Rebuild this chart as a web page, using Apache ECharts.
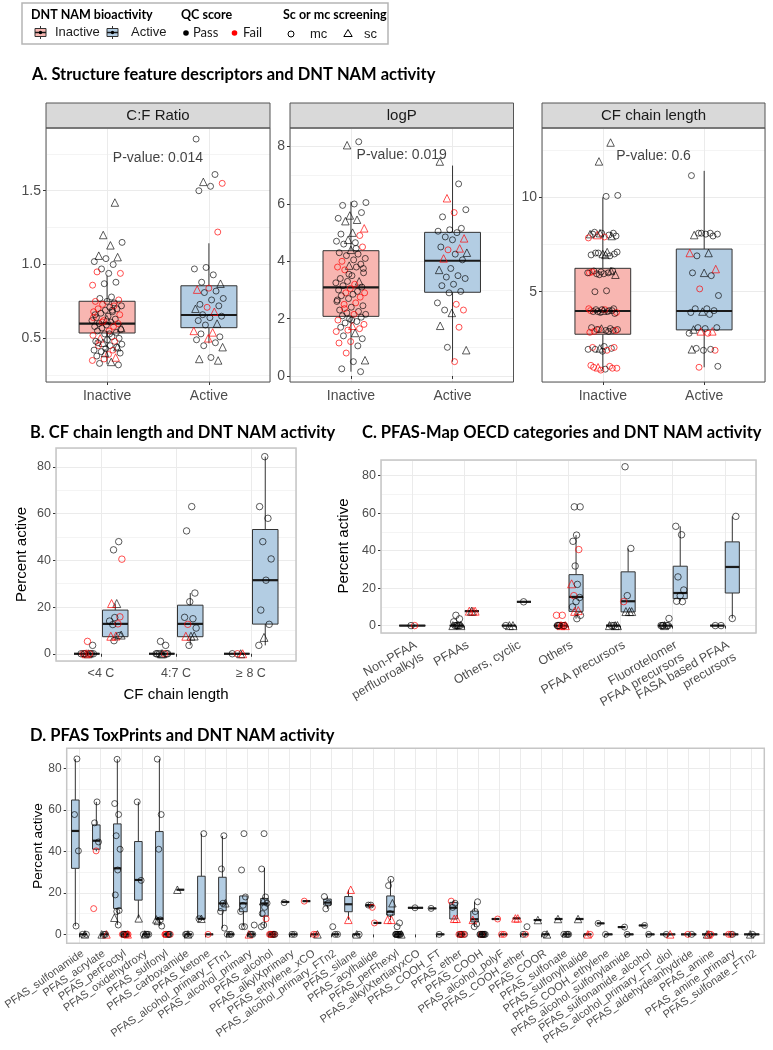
<!DOCTYPE html>
<html><head><meta charset="utf-8">
<script src="https://cdn.jsdelivr.net/npm/echarts@6/dist/echarts.min.js"></script>
<style>html,body{margin:0;padding:0;background:#fff}#c{width:773px;height:1050px}</style>
</head><body><div id="c"></div>
<script>
// ---------------- DATA ----------------
const aGroups = ['Inactive', 'Active'];
const aFacets = ['C:F Ratio', 'logP', 'CF chain length'];
const pValues = ['0.014', '0.019', '0.6'];
// point code: 0 = Pass/mc, 1 = Fail/mc, 2 = Pass/sc, 3 = Fail/sc
const cfRatioBox = [[0.324,0.536,0.600,0.751,0.922],[0.466,0.572,0.658,0.856,1.144]];
const cfRatioInactive = [[1.42,2],[1.20,2],[1.15,0],[1.13,2],[1.06,2],[1.05,2],[1.04,0],[1.02,0],[1.0,0],[0.97,0],[0.94,1],[0.94,0],[0.95,1],[0.88,0],[0.87,0],[0.86,1],[0.78,0],[0.77,0],[0.76,1],[0.75,0],[0.75,1],[0.74,0],[0.73,1],[0.72,0],[0.71,0],[0.70,1],[0.70,0],[0.69,0],[0.68,1],[0.68,0],[0.67,0],[0.66,1],[0.65,0],[0.64,0],[0.63,0],[0.62,1],[0.62,0],[0.61,0],[0.60,0],[0.60,1],[0.59,0],[0.58,0],[0.58,1],[0.57,0],[0.56,0],[0.55,1],[0.55,0],[0.54,0],[0.53,0],[0.52,1],[0.51,0],[0.50,3],[0.50,0],[0.49,0],[0.48,0],[0.48,1],[0.47,2],[0.46,0],[0.45,0],[0.45,1],[0.44,2],[0.43,0],[0.42,0],[0.42,1],[0.41,0],[0.40,0],[0.39,1],[0.38,0],[0.37,3],[0.36,1],[0.35,1],[0.34,2],[0.33,0],[0.32,0],[0.63,2],[0.66,0],[0.72,1],[0.61,1],[0.57,2],[0.53,0],[0.47,0],[0.44,0],[0.40,2],[0.64,1],[0.69,0]];
const cfRatioActive = [[1.85,0],[1.61,0],[1.56,2],[1.55,1],[1.53,0],[1.50,0],[1.22,1],[0.98,0],[0.97,0],[0.93,0],[0.88,0],[0.87,2],[0.84,1],[0.83,3],[0.82,0],[0.81,0],[0.77,0],[0.76,0],[0.73,0],[0.72,0],[0.71,1],[0.70,2],[0.68,3],[0.66,0],[0.65,0],[0.64,0],[0.62,0],[0.60,2],[0.59,0],[0.55,3],[0.54,3],[0.53,0],[0.51,0],[0.50,3],[0.49,0],[0.47,0],[0.45,0],[0.44,2],[0.37,0],[0.36,2],[0.35,2]];
const logPBox = [[0.15,2.08,3.09,4.37,6.08],[0.5,2.92,4.02,5.01,7.34]];
const logPInactive = [[8.17,0],[8.05,2],[6.05,0],[6.0,0],[5.95,0],[5.7,0],[5.6,2],[5.5,0],[5.45,2],[5.4,2],[5.15,3],[5.0,2],[4.95,0],[4.9,1],[4.75,2],[4.7,0],[4.65,0],[4.6,0],[4.5,1],[4.4,2],[4.3,0],[4.25,0],[4.2,0],[4.1,0],[4.05,0],[4.0,1],[3.9,0],[3.85,2],[3.8,1],[3.8,0],[3.7,1],[3.6,0],[3.5,0],[3.4,0],[3.3,2],[3.3,0],[3.25,0],[3.2,1],[3.15,0],[3.1,0],[3.05,1],[3.0,0],[2.95,0],[2.9,1],[2.9,1],[2.85,0],[2.8,0],[2.75,1],[2.7,0],[2.6,0],[2.55,1],[2.5,1],[2.45,0],[2.4,0],[2.3,0],[2.25,0],[2.2,0],[2.15,0],[2.15,1],[2.1,0],[2.05,0],[2.0,0],[1.95,1],[1.9,0],[1.85,0],[1.8,1],[1.75,3],[1.7,0],[1.65,1],[1.6,1],[1.55,1],[1.5,2],[1.4,0],[1.3,0],[1.2,1],[1.15,1],[1.05,0],[0.8,1],[0.55,2],[0.5,0],[0.25,0],[0.15,0],[3.55,0],[2.65,0],[4.45,0],[2.35,1],[3.75,0],[1.95,0]];
const logPActive = [[7.48,2],[6.7,0],[6.2,3],[5.8,0],[5.7,1],[5.55,0],[5.15,0],[5.1,0],[5.05,0],[5.0,0],[4.85,0],[4.8,3],[4.75,0],[4.5,0],[4.45,3],[4.4,1],[4.3,2],[4.25,0],[4.1,3],[4.05,0],[3.75,0],[3.7,2],[3.5,0],[3.45,0],[3.4,0],[3.2,0],[3.15,0],[2.95,0],[2.9,0],[2.55,0],[2.5,1],[2.3,0],[2.3,1],[2.2,2],[1.75,2],[1.7,1],[1.0,0],[0.9,2],[0.5,1]];
const cfChainBox = [[0.9,2.75,3.98,6.24,10.0],[1.0,2.98,3.98,7.26,11.4]];
const cfChainInactive = [[12.9,2],[11.9,2],[10.1,0],[10.05,0],[8.15,0],[8.1,0],[8.1,0],[8.05,2],[8.0,0],[8.0,3],[7.95,0],[7.9,1],[8.05,0],[7.95,2],[8.1,2],[7.85,1],[7.1,2],[7.05,0],[7.0,0],[7.0,2],[6.95,0],[6.9,0],[7.05,0],[7.1,0],[6.95,2],[6.1,0],[6.1,0],[6.05,0],[6.0,1],[6.0,0],[5.95,0],[5.9,2],[5.95,0],[6.05,1],[6.1,2],[5.9,0],[6.0,0],[5.05,0],[5.0,0],[4.1,0],[4.05,0],[4.0,1],[4.0,0],[3.95,0],[3.9,1],[4.05,1],[3.95,0],[4.0,0],[3.9,0],[4.1,1],[3.95,0],[4.05,0],[3.85,0],[4.0,2],[3.1,0],[3.05,0],[3.0,1],[3.0,0],[2.95,0],[2.9,1],[2.95,0],[3.05,2],[2.85,1],[2.9,0],[3.0,0],[2.95,1],[2.1,0],[2.05,1],[2.0,0],[2.0,2],[1.95,0],[1.9,1],[1.95,0],[2.05,1],[1.85,0],[1.1,1],[1.05,1],[1.0,3],[0.95,1],[0.9,0],[1.0,1],[0.95,1],[0.85,1]];
const cfChainActive = [[11.15,0],[8.1,0],[8.1,0],[8.05,0],[8.05,0],[8.0,2],[7.95,0],[8.1,0],[7.05,3],[7.05,2],[6.9,0],[6.2,3],[6.0,2],[6.0,0],[5.85,0],[5.15,1],[4.8,0],[4.1,0],[4.1,0],[4.0,0],[3.95,2],[3.9,0],[3.8,0],[3.1,0],[3.1,0],[3.05,0],[3.0,2],[2.9,3],[2.9,3],[2.8,0],[2.8,1],[2.0,0],[1.9,1],[1.9,0],[1.95,2],[1.95,0],[1.0,1],[1.05,0]];

// Panel B
const chainCats = ['<4 C', '4:7 C', '\u2265 8 C'];
const chainInactiveBox = [[0,0,0,0,0],[0,0,0,0,0],[0,0,0,0,0]];
const chainActiveBox = [[5.6,7.3,12.8,18.7,21.5],[3.6,7.3,12.8,20.8,26],[3.6,12.7,31.5,53.2,84.4]];
const chainInactivePts = [
  [[0,0],[0,1],[0,0],[0,2],[0,1],[0,0],[0,3],[0,0],[0,1],[0,0],[3.6,0],[5.3,1]],
  [[0,0],[0,2],[0,0],[0,1],[0,0],[0,0],[0,2],[0,0],[3.6,0],[5.3,0]],
  [[0,3],[0,1],[0,0],[0,2]]
];
const chainActivePts = [
  [[48,0],[44.5,0],[40.5,1],[21.5,2],[21.5,3],[15.8,1],[15.5,0],[14,0],[12.8,1],[12.5,0],[8,2],[7.6,3],[7.5,3],[7.8,0],[5.6,0]],
  [[63,0],[52.6,0],[26,0],[22.3,0],[15.6,0],[15,0],[12.6,1],[11,0],[7.5,2],[7.5,3],[7.6,2],[3.6,0]],
  [[84.4,0],[63,0],[58,0],[48,0],[40.6,0],[31.5,0],[18.7,0],[12.6,0],[7,2],[3.6,0]]
];

// Panel C
const oecdCats = ['Non-PFAA\nperfluoroalkyls', 'PFAAs', 'Others, cyclic', 'Others', 'PFAA precursors', 'Fluorotelomer\nPFAA precursors', 'FASA based PFAA\nprecursors'];
const oecdInactiveBox = [[0,0,0,0,0],[0,0,0,0,0],[0,0,0,0,0],[0,0,0,0,0],[0,0,0,0,0],[0,0,0,0,0],[0,0,0,0,0]];
const oecdActiveBox = [null,[7.7,7.7,7.7,7.7,7.7],[12.7,12.7,12.7,12.7,12.7],[3.7,7.6,15.3,27.2,48.3],[7.3,7.3,13,28.7,41.2],[13,14.4,17.4,31.7,53],[3.8,17.4,31.3,44.7,58.3]];
const oecdInactivePts = [
  [[0,1],[0,0]],
  [[0,0],[0,0],[0,2],[0,0],[0,0],[0,2],[0,0],[2,0],[3.6,0],[5.5,0]],
  [[0,2],[0,2],[0,0]],
  [[5.5,1],[5.5,1],[0,1],[0,1],[0,3],[0,0],[0,1],[0,0],[0,3],[0,1],[0,0],[0,0]],
  [[0,2],[0,2],[0,0],[0,2],[0,0]],
  [[0,0],[0,0],[0,2],[0,0],[0,0],[0,0],[3.8,0]],
  [[0,0],[0,0]]
];
const oecdActivePts = [
  [],
  [[7.7,3],[7.7,3],[7.7,3],[7.7,2]],
  [[12.7,0]],
  [[63.4,0],[63.4,0],[48.3,0],[45,0],[40.6,1],[31.8,0],[22.3,3],[22,0],[16,1],[15,0],[12.8,0],[10,0],[8,3],[7.6,3],[5.5,0],[3.7,0]],
  [[84.8,0],[41.2,0],[16,0],[12.8,1],[7.5,2],[7.5,2],[7.5,2]],
  [[53,0],[48.5,0],[26,0],[19,0],[16,0],[13,0],[12.8,0]],
  [[58.3,0],[3.8,0]]
];

// Panel D
const toxCats = ['PFAS_sulfonamide','PFAS_acrylate','PFAS_perFoctyl','PFAS_oxidehydroxy','PFAS_sulfonyl','PFAS_carboxamide','PFAS_ketone','PFAS_alcohol_primary_FTn1','PFAS_alcohol_primary','PFAS_alcohol','PFAS_alkylXprimary','PFAS_ethylene_xCO','PFAS_alcohol_primary_FTn2','PFAS_silane','PFAS_acylhalide','PFAS_perFhexyl','PFAS_alkylXtertiaryxCO','PFAS_COOH_FT','PFAS_ether','PFAS_COOH','PFAS_alcohol_polyF','PFAS_COOH_ether','PFAS_COOR','PFAS_sulfonate','PFAS_sulfonylhalide','PFAS_COOH_ethylene','PFAS_alcohol_sulfonylamide','PFAS_sulfonamide_alcohol','PFAS_alcohol_primary_FT_diol','PFAS_aldehydeanhydride','PFAS_amine','PFAS_amine_primary','PFAS_sulfonate_FTn2'];
const toxActiveBox = [[4,31.8,49.8,64.7,84.5],[40,41,45.1,52.7,63.8],[4.5,12.5,31.8,53.2,84.3],[7.7,16.5,26.2,44.7,63.8],[4,7.2,7.6,49.5,84.4],[21.5,21.5,21.5,21.5,21.5],[7.5,7.5,7.5,28,48.5],[2.9,11.4,14.9,27.5,47.4],[3.7,10.9,14.9,18.5,18.5],[3.7,8.8,14.9,17.3,32],[15.6,15.6,15.6,15.6,15.6],[16,16,16,16,16],[12.3,14.1,15.3,17,18.2],[7,10.9,14.5,18.2,21.5],[13,13.6,14.1,14.1,14.1],[6.9,9.3,10.9,18.5,26.5],[12.8,12.8,12.8,12.8,12.8],[12.5,12.5,12.5,12.5,12.5],[7.4,7.4,12.8,15.4,16.2],[3.7,6,7.3,11.2,15.7],[7.4,7.4,7.4,7.4,7.4],[7.7,7.7,7.7,7.7,7.7],[6.9,6.9,6.9,6.9,6.9],[7.4,7.4,7.4,7.4,7.4],[7.4,7.4,7.4,7.4,7.4],[5.3,5.3,5.3,5.3,5.3],[3.5,3.5,3.5,3.5,3.5],[4.3,4.3,4.3,4.3,4.3],null,null,null,null,null];
const toxInactiveBox = [[0,0,0,0,0],[0,0,0,0,0],[0,0,0,0,0],[0,0,0,0,0],[0,0,0,0,0],[0,0,0,0,0],[0,0,0,0,0],[0,0,0,0,0],[0,0,0,0,0],[0,0,0,0,0],[0,0,0,0,0],[0,0,0,0,0],[0,0,0,0,0],[0,0,0,0,0],[5.5,5.5,5.5,5.5,5.5],[0,0,0,0,0],null,[0,0,0,0,0],[0,0,0,0,0],[0,0,0,0,0],[0,0,0,0,0],[0,0,0,0,0],[0,0,0,0,0],[0,0,0,0,0],[0,0,0,0,0],[0,0,0,0,0],[0,0,0,0,0],[0,0,0,0,0],[0,0,0,0,0],[0,0,0,0,0],[0,0,0,0,0],[0,0,0,0,0],[0,0,0,0,0]];
const toxActivePts = [
 [[84.5,0],[57.7,0],[40.2,0],[4,0]],
 [[63.8,0],[53.7,0],[44.5,0],[40.2,1],[12.4,1]],
 [[84.3,0],[63,0],[57.7,0],[47.5,0],[41,0],[31,0],[19,0],[11.5,0],[11,0],[8,2],[4.5,0]],
 [[63.8,0],[26,0],[7.7,2]],
 [[84.4,0],[57.7,0],[41,0],[7.2,2],[7,0],[6.5,2],[4,0]],
 [[21.5,2]],
 [[48.5,0],[7.5,2],[7.5,0]],
 [[47.5,0],[31.5,0],[15,2],[15,0],[11,0],[3,0]],
 [[48.5,0],[31,0],[18,0],[14,0],[11,0],[3.7,0],[3.7,0]],
 [[48.5,0],[31.5,0],[18,0],[16,2],[15,0],[13,0],[10,0],[7.5,1],[4.5,0],[3.7,0]],
 [[15.3,0]],
 [[16,1]],
 [[18.2,0],[15,0],[12.3,0]],
 [[21.5,3],[7,3]],
 [[14.1,0],[14.1,0],[13,1]],
 [[26.5,0],[23.5,0],[15,2],[10,0],[7,3],[7,3]],
 [[12.8,0]],
 [[12.5,0]],
 [[16,1],[15,0],[13,0],[7.5,3],[7.5,3]],
 [[15.7,0],[11,0],[7,3],[5,0],[3.7,0]],
 [[7.4,1]],
 [[7.7,3],[7.7,3]],
 [[6.9,2]],
 [[7.4,2]],
 [[7.4,2]],
 [[5.3,0]],
 [[3.5,0]],
 [[4.3,0]],
 [],[],[],[],[]
];
const toxInactivePts = [
 [[0,2],[0,0],[0,0]],
 [[0,3],[0,0],[0,2],[0,0]],
 [[0,1],[0,1],[0,0],[0,1],[0,0],[0,1],[0,0],[0,0],[0,3]],
 [[0,0],[0,0],[0,2],[0,0],[0,0]],
 [[0,1],[0,0],[0,1],[0,1],[0,0],[0,1],[0,0]],
 [[0,0],[0,0],[0,2],[0,0]],
 [[0,1]],
 [[0,0],[0,0],[0,0]],
 [[0,0],[0,3],[0,0],[0,0],[4.5,0]],
 [[0,1],[0,0],[0,1],[0,0],[0,1],[0,0],[0,1],[0,0]],
 [[0,0],[0,0]],
 [[0,1],[0,1],[0,2]],
 [[0,0],[0,0],[3.7,0]],
 [[0,0],[0,2]],
 [[5.5,1]],
 [[0,0],[0,0],[0,0],[0,2],[0,0],[0,0],[0,0],[0,0],[0,0],[5.5,0],[3.7,0]],
 [],
 [[0,0]],
 [[0,1],[0,0],[0,1],[0,0],[0,1],[0,0],[0,1]],
 [[0,0],[0,0],[0,0],[0,1],[0,0],[0,0],[0,0],[0,0],[0,0]],
 [[0,1],[0,1]],
 [[0,1],[0,0],[3.7,0]],
 [[0,2],[0,0]],
 [[0,0],[0,0],[0,0],[0,0]],
 [[0,1],[0,3]],
 [[0,0]],
 [[0,0]],
 [[0,0]],
 [[0,0],[0,3]],
 [[0,1],[0,0]],
 [[0,0],[0,2],[0,1],[0,3]],
 [[0,1],[0,1],[0,0]],
 [[0,0],[0,2]]
];

// ---------------- STYLE / LAYOUT ----------------
const FONT = "'Liberation Sans', Arial, sans-serif";
const TFONT = "Lato, 'Liberation Sans', sans-serif";
const PINK = '#F8B6B1', BLUE = '#B3CDE3', INK = '#333333';
const BLACK_PT = 'rgba(0,0,0,0.8)', RED_PT = 'rgba(255,0,0,0.85)';

const grid = [], xAxis = [], yAxis = [], series = [], graphic = [];

function jit(i, half) { return ((((i + 1) * 0.6180339887 + 0.137) % 1) * 2 - 1) * half; }

function ptItem(x, v, code, size) {
  const fail = code % 2 === 1, sc = code >= 2;
  return {value: [x, v], symbol: sc ? 'triangle' : 'circle', symbolSize: sc ? size + 1.5 : size,
    itemStyle: {color: 'rgba(0,0,0,0)', borderColor: fail ? RED_PT : BLACK_PT, borderWidth: 1}};
}

function renderBox(params, api) {
  const x = api.value(0), w = api.value(7), g = api.value(6);
  const lo = api.value(1), q1 = api.value(2), md = api.value(3), q3 = api.value(4), hi = api.value(5);
  const a = api.coord([x - w / 2, q3]), b = api.coord([x + w / 2, q1]);
  const c0 = api.coord([x, lo]), c1 = api.coord([x, q1]), c3 = api.coord([x, q3]), c4 = api.coord([x, hi]);
  const m0 = api.coord([x - w / 2, md]), m1 = api.coord([x + w / 2, md]);
  const ls = {stroke: INK, lineWidth: 1};
  return {type: 'group', children: [
    {type: 'line', shape: {x1: c0[0], y1: c0[1], x2: c1[0], y2: c1[1]}, style: ls},
    {type: 'line', shape: {x1: c3[0], y1: c3[1], x2: c4[0], y2: c4[1]}, style: ls},
    {type: 'rect', shape: {x: a[0], y: a[1], width: b[0] - a[0], height: Math.max(b[1] - a[1], 0)}, style: {fill: g ? BLUE : PINK, stroke: INK, lineWidth: 1}},
    {type: 'line', shape: {x1: m0[0], y1: m0[1], x2: m1[0], y2: m1[1]}, style: {stroke: '#1a1a1a', lineWidth: 2.2}}
  ]};
}

function addPanel(p) {
  const gi = grid.length;
  grid.push({left: p.left, top: p.top, width: p.width, height: p.height, show: false});
  const cats = p.cats;
  xAxis.push({type: 'value', gridIndex: gi, min: 0.4, max: cats.length + 0.6, minInterval: 1, maxInterval: 1, splitNumber: 5,
    axisLine: {show: false}, axisTick: {show: true, length: 3, lineStyle: {color: INK}},
    splitLine: {show: true, lineStyle: {color: '#ebebeb', width: 1}},
    axisLabel: {show: true, showMinLabel: false, showMaxLabel: false, hideOverlap: false,
      rotate: p.rot || 0, align: p.rot ? 'right' : 'center', verticalAlign: 'top', margin: p.xMargin,
      fontSize: p.xFont, lineHeight: p.xFont + 1.5, color: '#4d4d4d', fontFamily: FONT,
      formatter: function (v) { const r = Math.round(v); return (Math.abs(v - r) < 1e-6 && cats[r - 1]) ? cats[r - 1] : ''; }}});
  yAxis.push({type: 'value', gridIndex: gi, min: p.yMin, max: p.yMax, minInterval: p.yInt, maxInterval: p.yInt, splitNumber: 5,
    axisLine: {show: false}, axisTick: {show: true, length: 3, lineStyle: {color: INK}},
    axisLabel: {showMinLabel: false, showMaxLabel: false, fontSize: p.yFont, color: '#4d4d4d', margin: 5, fontFamily: FONT,
      formatter: function (v) { return v.toFixed(p.yDec); }},
    splitLine: {show: true, lineStyle: {color: '#ebebeb', width: 1}},
    minorTick: {show: false, splitNumber: 2},
    minorSplitLine: {show: true, lineStyle: {color: '#f4f4f4', width: 1}}});
  graphic.push({type: 'rect', z: 100, silent: true, shape: {x: p.left, y: p.top, width: p.width, height: p.height},
    style: {fill: 'none', stroke: p.border, lineWidth: p.bw}});
  return gi;
}

function addBoxes(gi, items) {
  series.push({type: 'custom', xAxisIndex: gi, yAxisIndex: gi, renderItem: renderBox, data: items,
    encode: {x: 0, y: 3}, z: 2, silent: true, clip: false});
}
function addPoints(gi, items) {
  series.push({type: 'scatter', xAxisIndex: gi, yAxisIndex: gi, data: items, z: 3, silent: true});
}

// ---------------- PANEL A ----------------
const aPanels = [
  {left: 46, width: 224, yMin: 0.204, yMax: 1.925, yInt: 0.5, yDec: 1, box: cfRatioBox, pts: [cfRatioInactive, cfRatioActive], pvY: 1.72},
  {left: 290, width: 223.5, yMin: -0.21, yMax: 8.65, yInt: 2, yDec: 0, box: logPBox, pts: [logPInactive, logPActive], pvY: 7.7},
  {left: 542, width: 223, yMin: 0.22, yMax: 13.67, yInt: 5, yDec: 0, box: cfChainBox, pts: [cfChainInactive, cfChainActive], pvY: 12.2}
];
aPanels.forEach(function (ap, k) {
  const gi = addPanel({left: ap.left, top: 128, width: ap.width, height: 254, cats: aGroups,
    yMin: ap.yMin, yMax: ap.yMax, yInt: ap.yInt, yDec: ap.yDec, yFont: 14, xFont: 14, xMargin: 6, border: '#555', bw: 1});
  addBoxes(gi, ap.box.map(function (b, g) { return [g + 1].concat(b).concat([g, 0.55]); }));
  const pts = [];
  ap.pts.forEach(function (arr, g) {
    arr.forEach(function (d, i) { pts.push(ptItem(g + 1 + jit(i + g * 7, 0.15), d[0], d[1], 6)); });
  });
  addPoints(gi, pts);
  series.push({type: 'scatter', xAxisIndex: gi, yAxisIndex: gi, data: [[1.5, ap.pvY]], symbolSize: 1, z: 5, silent: true,
    itemStyle: {color: 'rgba(0,0,0,0)'},
    label: {show: true, position: 'inside', formatter: 'P-value: ' + pValues[k], fontSize: 14, color: '#111', fontFamily: FONT}});
  graphic.push({type: 'rect', z: 99, silent: true, shape: {x: ap.left, y: 103, width: ap.width, height: 25},
    style: {fill: '#d9d9d9', stroke: '#555', lineWidth: 1}});
  graphic.push({type: 'text', z: 101, silent: true, x: ap.left + ap.width / 2, y: 116,
    style: {text: aFacets[k], font: '15px ' + FONT, fill: '#1a1a1a', align: 'center', verticalAlign: 'middle', textAlign: 'center', textVerticalAlign: 'middle'}});
});

// ---------------- PANEL B ----------------
(function () {
  const gi = addPanel({left: 56, top: 448, width: 240, height: 213, cats: chainCats,
    yMin: -3.1, yMax: 88.1, yInt: 20, yDec: 0, yFont: 12.5, xFont: 12.5, xMargin: 6, border: '#c6c6c6', bw: 1.5});
  const boxes = [], pts = [];
  chainCats.forEach(function (c, i) {
    const xi = i + 1 - 0.19, xa = i + 1 + 0.19;
    boxes.push([xi].concat(chainInactiveBox[i]).concat([0, 0.34]));
    boxes.push([xa].concat(chainActiveBox[i]).concat([1, 0.34]));
    chainInactivePts[i].forEach(function (d, j) { pts.push(ptItem(xi + jit(j + i * 5, 0.09), d[0], d[1], 6.5)); });
    chainActivePts[i].forEach(function (d, j) { pts.push(ptItem(xa + jit(j + i * 3, 0.09), d[0], d[1], 6.5)); });
  });
  addBoxes(gi, boxes); addPoints(gi, pts);
})();

// ---------------- PANEL C ----------------
(function () {
  const gi = addPanel({left: 381, top: 460, width: 375, height: 173, cats: oecdCats,
    yMin: -3.95, yMax: 88.4, yInt: 20, yDec: 0, yFont: 12.5, xFont: 12.5, xMargin: 5, rot: 30, border: '#c6c6c6', bw: 1.5});
  const boxes = [], pts = [];
  oecdCats.forEach(function (c, i) {
    const both = oecdActiveBox[i] && oecdInactiveBox[i];
    const xi = both ? i + 1 - 0.145 : i + 1, xa = both ? i + 1 + 0.145 : i + 1, w = both ? 0.27 : 0.5;
    if (oecdInactiveBox[i]) boxes.push([xi].concat(oecdInactiveBox[i]).concat([0, w]));
    if (oecdActiveBox[i]) boxes.push([xa].concat(oecdActiveBox[i]).concat([1, w]));
    oecdInactivePts[i].forEach(function (d, j) { pts.push(ptItem(xi + jit(j + i * 5, 0.09), d[0], d[1], 6.5)); });
    oecdActivePts[i].forEach(function (d, j) { pts.push(ptItem(xa + jit(j + i * 3, 0.09), d[0], d[1], 6.5)); });
  });
  addBoxes(gi, boxes); addPoints(gi, pts);
})();

// ---------------- PANEL D ----------------
(function () {
  const gi = addPanel({left: 66.7, top: 748.3, width: 697.6, height: 195, cats: toxCats,
    yMin: -4.3, yMax: 89.6, yInt: 20, yDec: 0, yFont: 12, xFont: 11, xMargin: 4, rot: 35, border: '#c6c6c6', bw: 1.5});
  const boxes = [], pts = [];
  toxCats.forEach(function (c, i) {
    const both = toxActiveBox[i] && toxInactiveBox[i];
    const xa = both ? i + 1 - 0.19 : i + 1, xi = both ? i + 1 + 0.19 : i + 1, w = both ? 0.36 : 0.72;
    if (toxActiveBox[i]) boxes.push([xa].concat(toxActiveBox[i]).concat([1, w]));
    if (toxInactiveBox[i]) boxes.push([xi].concat(toxInactiveBox[i]).concat([0, w]));
    toxActivePts[i].forEach(function (d, j) { pts.push(ptItem(xa + jit(j + i * 3, 0.15), d[0], d[1], 6)); });
    toxInactivePts[i].forEach(function (d, j) { pts.push(ptItem(xi + jit(j + i * 5, 0.15), d[0], d[1], 6)); });
  });
  addBoxes(gi, boxes); addPoints(gi, pts);
})();

// ---------------- TEXT / LEGEND ----------------
function txt(x, y, s, font, opts) {
  opts = opts || {};
  const el = {type: 'text', z: 101, silent: true, x: x, y: y, rotation: opts.rot || 0,
    style: {text: s, font: font, fill: opts.fill || '#000', align: opts.align || 'left', verticalAlign: 'middle',
      textAlign: opts.align || 'left', textVerticalAlign: 'middle'}};
  graphic.push(el);
}
txt(32, 75, 'A. Structure feature descriptors and DNT NAM activity', 'bold 16.5px ' + TFONT);
txt(30, 433, 'B. CF chain length and DNT NAM activity', 'bold 16.5px ' + TFONT);
txt(362, 433, 'C. PFAS-Map OECD categories and DNT NAM activity', 'bold 16.5px ' + TFONT);
txt(30, 736, 'D. PFAS ToxPrints and DNT NAM activity', 'bold 16.5px ' + TFONT);
txt(22, 554.5, 'Percent active', '15px ' + FONT, {align: 'center', rot: Math.PI / 2});
txt(344, 546, 'Percent active', '15px ' + FONT, {align: 'center', rot: Math.PI / 2});
txt(38, 846, 'Percent active', '13.5px ' + FONT, {align: 'center', rot: Math.PI / 2});
txt(176, 695, 'CF chain length', '15px ' + FONT, {align: 'center'});

// legend
graphic.push({type: 'rect', z: 98, silent: true, shape: {x: 22, y: 3, width: 366, height: 41}, style: {fill: '#fff', stroke: '#b5b5b5', lineWidth: 1.5}});
txt(31, 14.5, 'DNT NAM bioactivity', 'bold 12.5px ' + TFONT);
txt(181, 14.5, 'QC score', 'bold 12.5px ' + TFONT);
txt(283, 14.5, 'Sc or mc screening', 'bold 12.5px ' + TFONT);
function boxIcon(x, col) {
  graphic.push({type: 'line', z: 101, silent: true, shape: {x1: x + 5.5, y1: 26, x2: x + 5.5, y2: 39}, style: {stroke: INK, lineWidth: 1}});
  graphic.push({type: 'rect', z: 101, silent: true, shape: {x: x, y: 28.5, width: 11, height: 8}, style: {fill: col, stroke: INK, lineWidth: 1}});
  graphic.push({type: 'line', z: 102, silent: true, shape: {x1: x, y1: 32.5, x2: x + 11, y2: 32.5}, style: {stroke: '#1a1a1a', lineWidth: 1.5}});
  graphic.push({type: 'circle', z: 103, silent: true, shape: {cx: x + 5.5, cy: 32.5, r: 1.7}, style: {fill: '#000'}});
}
boxIcon(35, PINK);
txt(55, 32.5, 'Inactive', '13px ' + FONT, {fill: '#1a1a1a'});
boxIcon(107, BLUE);
txt(131, 32.5, 'Active', '13px ' + FONT, {fill: '#1a1a1a'});
graphic.push({type: 'circle', z: 101, silent: true, shape: {cx: 186, cy: 33, r: 2.8}, style: {fill: '#000'}});
txt(193, 33, 'Pass', '13px ' + TFONT, {fill: '#1a1a1a'});
graphic.push({type: 'circle', z: 101, silent: true, shape: {cx: 234.5, cy: 33, r: 2.8}, style: {fill: '#ff0000'}});
txt(243, 33, 'Fail', '13px ' + TFONT, {fill: '#1a1a1a'});
graphic.push({type: 'circle', z: 101, silent: true, shape: {cx: 291, cy: 34, r: 3}, style: {fill: 'none', stroke: '#000', lineWidth: 1}});
txt(310, 34, 'mc', '13px ' + FONT, {fill: '#1a1a1a'});
graphic.push({type: 'polygon', z: 101, silent: true, shape: {points: [[348, 29.5], [352.2, 36.5], [343.8, 36.5]]}, style: {fill: 'none', stroke: '#000', lineWidth: 1}});
txt(364, 34, 'sc', '13px ' + FONT, {fill: '#1a1a1a'});

const chart = echarts.init(document.getElementById('c'), null, {renderer: 'canvas'});
chart.setOption({animation: false, backgroundColor: '#fff', grid: grid, xAxis: xAxis, yAxis: yAxis, series: series, graphic: {elements: graphic}});
</script></body></html>
